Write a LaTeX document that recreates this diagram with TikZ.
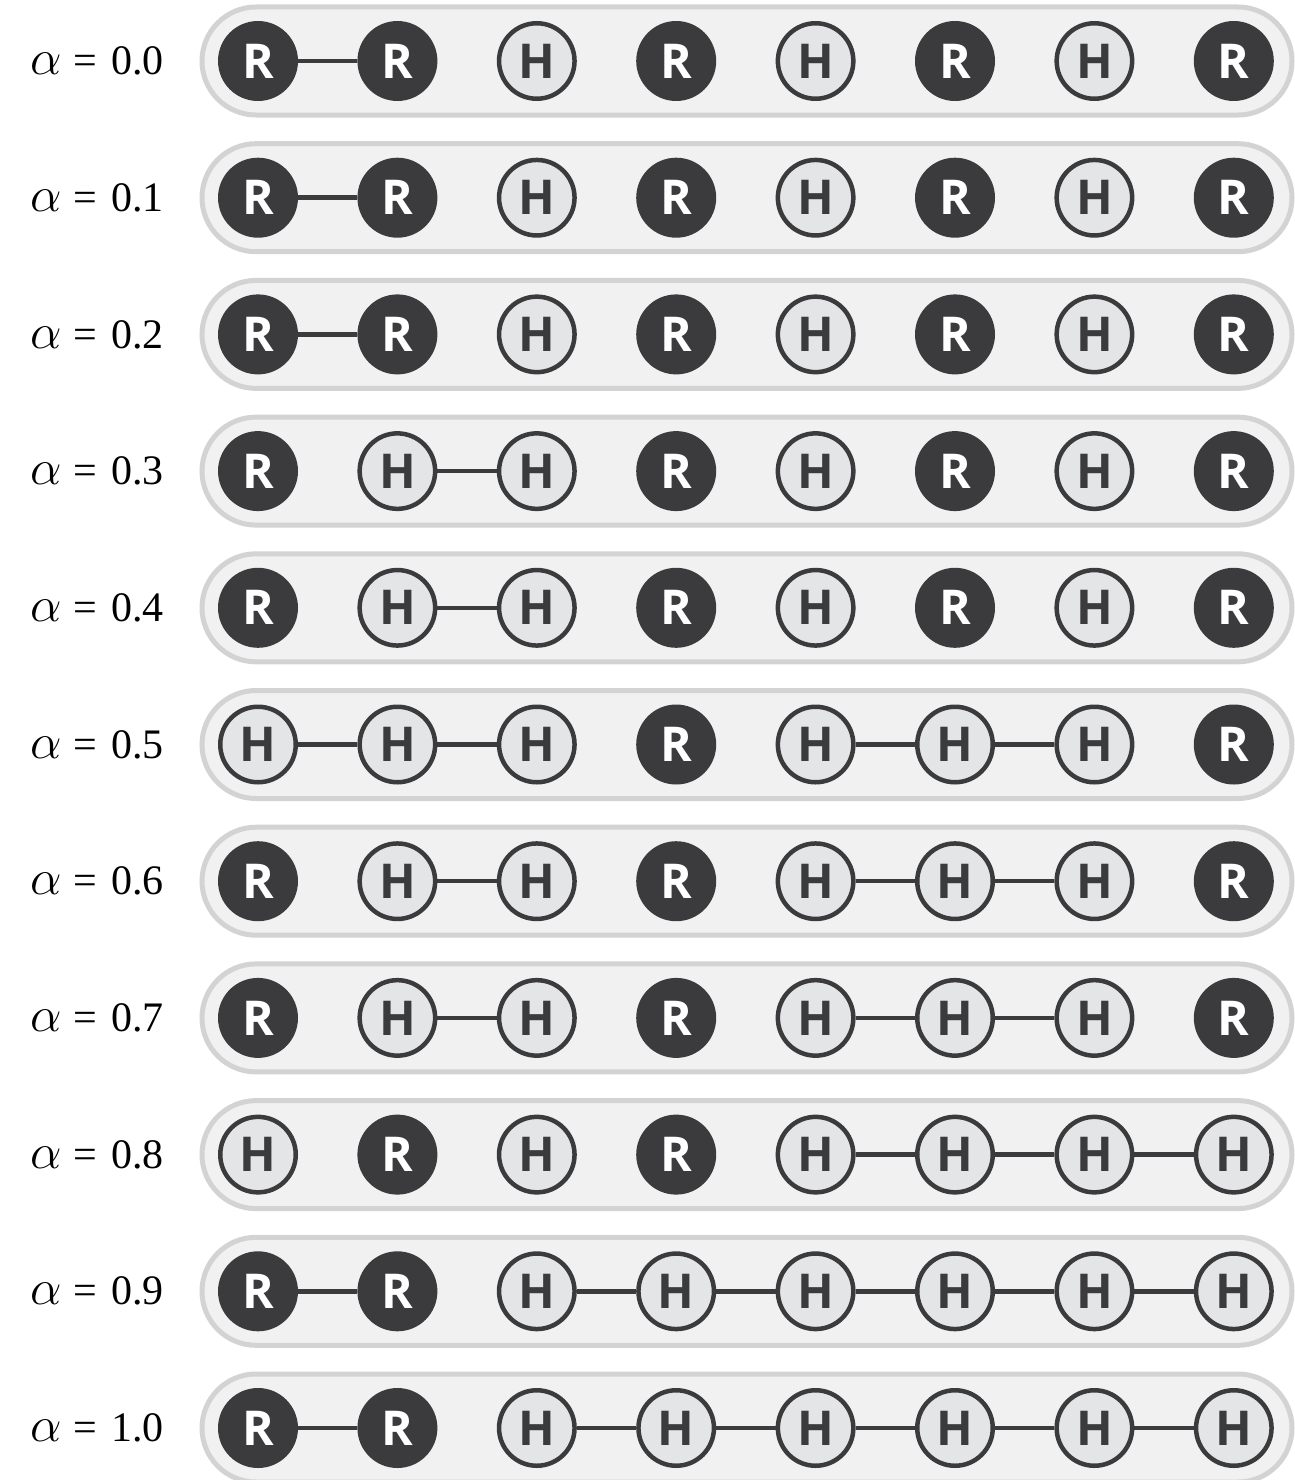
\documentclass[tikz,border=0pt]{standalone}
\usepackage{fix-cm}
\usepackage{fontspec}
\setmainfont{Liberation Serif}
\newfontfamily\atomfont{Open Sans}
\definecolor{atomdark}{HTML}{3B3B3D}
\definecolor{hfill}{HTML}{E4E5E7}
\definecolor{bandfill}{HTML}{F1F1F1}
\definecolor{bandedge}{HTML}{D3D3D3}
\tikzset{
  atomR/.style={circle, fill=atomdark, minimum size=80pt, inner sep=0pt,
    text=white, font=\atomfont\bfseries\fontsize{48}{48}\selectfont},
  atomH/.style={circle, draw=atomdark, line width=4.5pt, fill=hfill,
    minimum size=75.5pt, inner sep=0pt, text=atomdark,
    font=\atomfont\bfseries\fontsize{48}{48}\selectfont},
  bond/.style={draw=atomdark, line width=4.5pt},
  band/.style={draw=bandedge, fill=bandfill, line width=5pt, rounded corners=54pt},
  lab/.style={anchor=west, inner sep=0pt, font=\fontsize{42}{46}\selectfont}
}

\begin{document}
\begin{tikzpicture}[x=1pt, y=1pt]
  \useasboundingbox (0,0) rectangle (1295,-1480);
  % one row per alpha: atom types, then the bonds (i -- i+1)
  \foreach \r/\a/\t/\b in {
      0/0.0/{R,R,H,R,H,R,H,R}/{1},
      1/0.1/{R,R,H,R,H,R,H,R}/{1},
      2/0.2/{R,R,H,R,H,R,H,R}/{1},
      3/0.3/{R,H,H,R,H,R,H,R}/{2},
      4/0.4/{R,H,H,R,H,R,H,R}/{2},
      5/0.5/{H,H,H,R,H,H,H,R}/{1,2,5,6},
      6/0.6/{R,H,H,R,H,H,H,R}/{2,5,6},
      7/0.7/{R,H,H,R,H,H,H,R}/{2,5,6},
      8/0.8/{H,R,H,R,H,H,H,H}/{5,6,7},
      9/0.9/{R,R,H,H,H,H,H,H}/{1,3,4,5,6,7},
      10/1.0/{R,R,H,H,H,H,H,H}/{1,3,4,5,6,7}} {
    \pgfmathsetmacro\yy{-61-136.7*\r}
    % background band
    \draw[band] (202,{\yy-54}) rectangle (1292,{\yy+54});
    % label
    \node[lab] (lab\r) at (30,\yy)
      {{\fontsize{50}{50}\selectfont$\alpha$}\hspace{12pt}=\hspace{14pt}\a};
    % atoms
    \foreach \s [count=\c] in \t {
      \node[atom\s] (a\r-\c) at ({258+139.4*(\c-1)},\yy) {\s};
    }
    % bonds
    \foreach \i in \b {
      \pgfmathtruncatemacro\j{\i+1}
      \draw[bond] (a\r-\i) -- (a\r-\j);
    }
  }
\end{tikzpicture}
\end{document}
